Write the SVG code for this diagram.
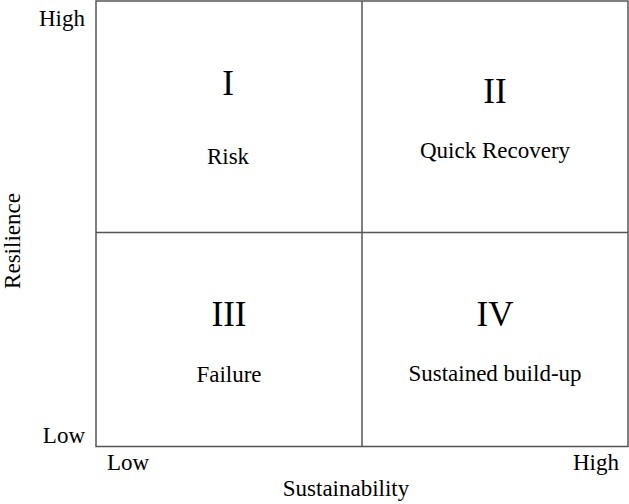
<svg xmlns="http://www.w3.org/2000/svg" width="629" height="504" viewBox="0 0 629 504">
<style>
text{font-family:"Liberation Serif","Times New Roman",serif;fill:#000}
.ax{font-size:23px}
.num{font-size:35px;text-anchor:middle}
.lab{font-size:23px;text-anchor:middle}
.ln{stroke:#555;stroke-width:1.5;fill:none}
</style>
<rect width="629" height="504" fill="#fff"/>
<g id="connectors">
<rect class="ln" x="96" y="1" width="532" height="445.5"/>
<line class="ln" x1="362" y1="1" x2="362" y2="446.5"/>
<line class="ln" x1="96" y1="232.5" x2="628" y2="232.5"/>
</g>
<g id="q1"><text class="num" x="228" y="95">I</text><text class="lab" x="228" y="164">Risk</text></g>
<g id="q2"><text class="num" x="495" y="103">II</text><text class="lab" x="495" y="158">Quick Recovery</text></g>
<g id="q3"><text class="num" x="229" y="326">III</text><text class="lab" x="229" y="382">Failure</text></g>
<g id="q4"><text class="num" x="495" y="326">IV</text><text class="lab" x="495" y="381">Sustained build-up</text></g>
<g id="axes">
<text class="ax" x="85" y="26" text-anchor="end">High</text>
<text class="ax" x="85" y="443" text-anchor="end">Low</text>
<text class="ax" x="107" y="470">Low</text>
<text class="ax" x="619" y="470" text-anchor="end">High</text>
<text class="ax" x="346" y="496" text-anchor="middle">Sustainability</text>
<text class="ax" transform="translate(20,241) rotate(-90)" text-anchor="middle">Resilience</text>
</g>
</svg>
